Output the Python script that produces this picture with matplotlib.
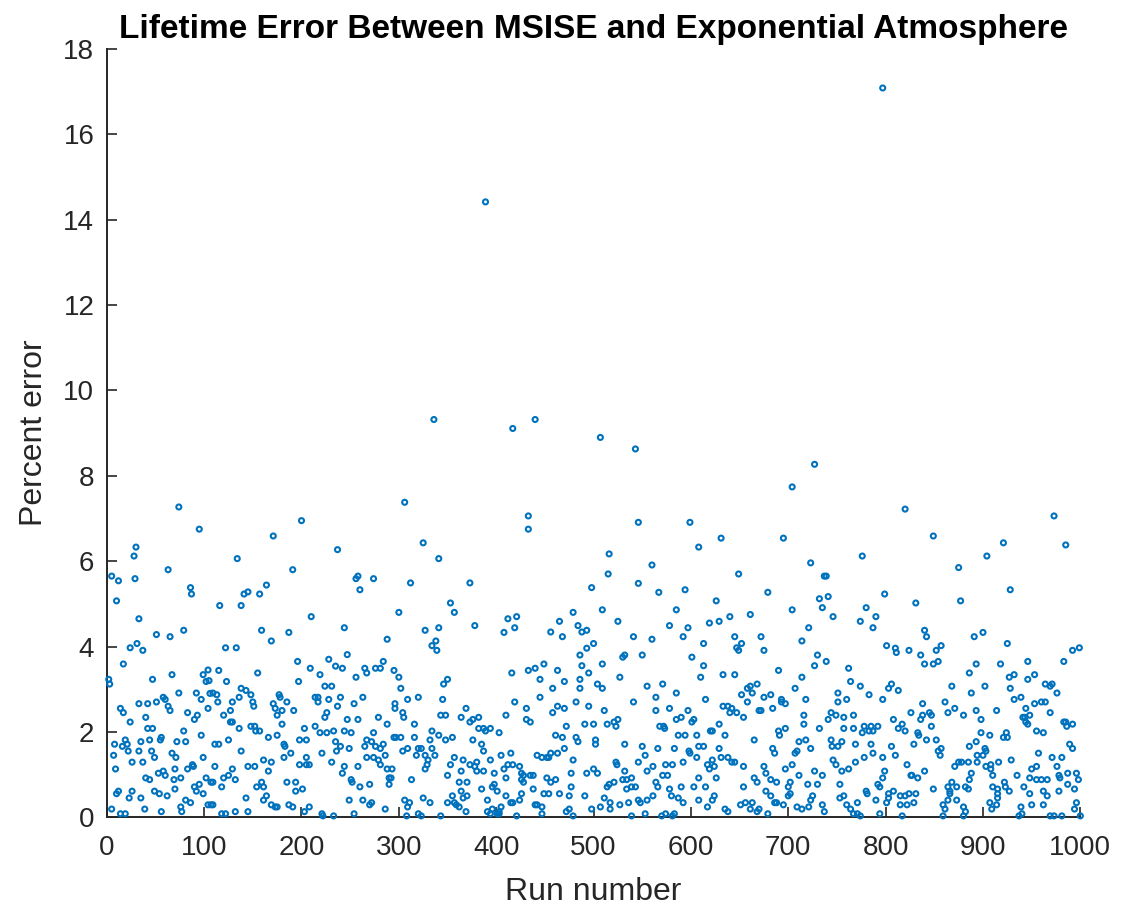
import matplotlib
matplotlib.use("Agg")
import matplotlib.pyplot as plt

# Lifetime error of each Monte Carlo run (MSISE vs exponential atmosphere)
run_number = [
    # runs 0-107
    74, 95, 30, 28, 5, 12, 29, 63, 86, 87,
    10, 33, 79, 51, 65, 31, 24, 37, 17, 2,
    3, 47, 67, 99, 104, 102, 105, 74, 92, 97,
    58, 60, 51, 42, 33, 63, 65, 14, 17, 83,
    93, 90, 40, 24, 42, 47, 79, 97, 8, 19,
    16, 21, 22, 33, 35, 44, 56, 55, 72, 81,
    46, 7, 49, 67, 71, 99, 9, 26, 37, 70,
    83, 88, 89, 40, 44, 53, 58, 60, 69, 76,
    102, 10, 12, 26, 49, 54, 70, 90, 95, 92,
    99, 23, 35, 62, 81, 86, 5, 39, 76, 77,
    56, 14, 19, 104, 107, 106, 104,
    # runs 107-209
    200, 171, 134, 191, 164, 141, 145, 157, 116, 138,
    159, 187, 169, 122, 133, 196, 209, 115, 155, 197,
    123, 138, 143, 148, 136, 113, 109, 114, 129, 150,
    151, 177, 178, 185, 171, 173, 180, 192, 175, 120,
    127, 127, 129, 180, 148, 152, 153, 157, 136, 203,
    166, 175, 111, 115, 125, 182, 183, 198, 205, 138,
    189, 182, 205, 161, 169, 111, 145, 152, 198, 205,
    208, 129, 166, 120, 125, 132, 109, 118, 159, 154,
    161, 185, 194, 194, 201, 143, 161, 164, 169, 173,
    175, 187, 191, 208, 132, 145, 203, 118, 122, 109,
    107,
    # runs 210-313
    306, 237, 256, 258, 274, 260, 312, 210, 300, 244,
    288, 228, 247, 235, 242, 265, 267, 276, 281, 284,
    295, 300, 256, 219, 302, 224, 231, 214, 217, 217,
    228, 240, 237, 254, 263, 296, 296, 309, 226, 224,
    247, 258, 279, 304, 305, 288, 214, 219, 226, 233,
    244, 251, 274, 267, 272, 265, 276, 281, 284, 295,
    297, 302, 235, 240, 249, 236, 221, 304, 309, 286,
    267, 274, 279, 281, 231, 244, 258, 288, 293, 242,
    290, 292, 290, 251, 252, 260, 270, 313, 249, 263,
    272, 270, 286, 306, 309, 311, 221, 222, 233, 254,
    308,
    # runs 314-415
    336, 389, 325, 341, 373, 353, 357, 378, 412, 408,
    327, 341, 334, 338, 339, 346, 350, 320, 345, 369,
    343, 348, 364, 373, 376, 382, 410, 316, 382, 387,
    389, 394, 334, 403, 341, 355, 348, 332, 316, 376,
    385, 320, 323, 334, 387, 318, 327, 337, 330, 329,
    327, 357, 353, 366, 373, 378, 380, 380, 387, 394,
    405, 415, 412, 408, 364, 398, 410, 350, 362, 370,
    385, 398, 396, 401, 364, 355, 366, 370, 410, 325,
    332, 350, 357, 359, 362, 369, 391, 391, 396, 394,
    401, 403, 403, 405, 415, 320, 323, 343,
    # runs 416-517
    417, 440, 507, 433, 433, 516, 515, 498, 509, 479,
    465, 421, 419, 456, 468, 484, 488, 493, 500, 486,
    493, 488, 509, 416, 433, 440, 449, 463, 445, 470,
    486, 486, 495, 504, 509, 458, 445, 419, 482, 431,
    463, 470, 458, 495, 511, 431, 435, 472, 491, 500,
    514, 461, 468, 482, 484, 502, 502, 470, 456, 463,
    442, 447, 452, 454, 479, 417, 424, 426, 428, 435,
    438, 426, 428, 452, 456, 461, 477, 493, 500, 504,
    477, 514, 516, 438, 426, 449, 454, 465, 475, 491,
    511, 417, 424, 440, 442, 447, 447, 421, 472, 475,
    479, 498, 507, 517, 517,
    # runs 518-622
    543, 546, 599, 608, 560, 546, 567, 594, 585, 525,
    578, 597, 592, 541, 560, 619, 613, 530, 532, 550,
    601, 613, 610, 527, 555, 571, 564, 585, 615, 541,
    564, 578, 597, 585, 590, 601, 603, 521, 523, 525,
    568, 572, 573, 587, 594, 606, 620, 532, 550, 566,
    583, 608, 613, 598, 599, 553, 606, 523, 524, 546,
    592, 574, 581, 617, 619, 622, 561, 555, 532, 571,
    576, 608, 530, 534, 539, 564, 566, 521, 534, 539,
    543, 578, 590, 603, 615, 561, 580, 587, 592, 608,
    622, 546, 548, 555, 536, 527, 617, 539, 553, 570,
    574, 581, 583,
    # runs 622-723
    704, 631, 695, 649, 679, 626, 629, 640, 661, 704,
    721, 723, 645, 652, 647, 649, 672, 675, 714, 690,
    633, 645, 714, 661, 658, 668, 663, 707, 652, 675,
    682, 658, 693, 693, 697, 718, 633, 638, 642, 640,
    647, 654, 670, 672, 684, 716, 716, 629, 622, 635,
    690, 691, 697, 665, 711, 718, 629, 723, 684, 686,
    707, 709, 631, 638, 624, 642, 645, 654, 675, 677,
    697, 704, 711, 626, 665, 668, 682, 688, 702, 700,
    720, 654, 677, 682, 702, 700, 624, 651, 656, 663,
    661, 668, 670, 686, 688, 695, 679, 635, 638, 709,
    714, 721, 723,
    # runs 724-826
    727, 820, 776, 737, 739, 732, 741, 735, 799, 780,
    746, 774, 790, 787, 801, 810, 811, 824, 730, 727,
    739, 762, 764, 774, 806, 803, 813, 751, 751, 760,
    783, 797, 744, 749, 741, 757, 767, 826, 808, 817,
    813, 820, 778, 785, 792, 783, 787, 776, 732, 757,
    767, 744, 745, 751, 755, 769, 785, 787, 806, 810,
    778, 797, 746, 749, 769, 822, 762, 755, 727, 735,
    799, 797, 826, 730, 753, 792, 794, 780, 781, 808,
    803, 725, 753, 757, 790, 803, 801, 815, 820, 824,
    815, 822, 735, 737, 760, 764, 767, 771, 774, 771,
    794, 817, 797,
    # runs 827-929
    849, 921, 904, 875, 928, 831, 877, 840, 842, 891,
    900, 925, 836, 852, 857, 840, 849, 854, 893, 918,
    886, 927, 928, 868, 902, 888, 861, 838, 838, 836,
    845, 847, 864, 871, 880, 893, 898, 914, 847, 833,
    834, 842, 852, 829, 898, 907, 921, 925, 924, 893,
    886, 902, 903, 854, 857, 856, 894, 900, 871, 875,
    878, 885, 894, 903, 908, 908, 916, 827, 833, 840,
    888, 886, 910, 868, 922, 923, 849, 864, 866, 866,
    873, 882, 885, 910, 915, 915, 915, 927, 831, 829,
    864, 873, 859, 861, 880, 882, 880, 859, 907, 914,
    909, 929,
    # runs 930-1000
    973, 985, 946, 983, 992, 999, 932, 946, 953, 964,
    969, 971, 976, 932, 939, 953, 960, 964, 944, 969,
    941, 943, 948, 944, 946, 983, 985, 986, 992, 955,
    962, 989, 992, 957, 971, 981, 950, 955, 976, 935,
    948, 955, 960, 966, 978, 979, 987, 996, 998, 942,
    987, 994, 948, 962, 966, 978, 939, 940, 937, 950,
    962, 996, 994, 969, 973, 981, 1000,
]

percent_error = [
    # runs 0-107
    7.27, 6.75, 6.33, 6.12, 5.65, 5.54, 5.59, 5.80, 5.38, 5.23,
    5.07, 4.65, 4.38, 4.28, 4.23, 4.07, 3.97, 3.91, 3.59, 3.23,
    3.12, 3.23, 3.34, 3.34, 3.45, 3.18, 3.20, 2.91, 2.91, 2.76,
    2.81, 2.76, 2.70, 2.66, 2.66, 2.60, 2.50, 2.55, 2.45, 2.45,
    2.39, 2.29, 2.34, 2.23, 2.08, 2.08, 2.02, 1.92, 1.71, 1.81,
    1.66, 1.71, 1.55, 1.55, 1.77, 1.81, 1.87, 1.81, 1.77, 1.77,
    1.55, 1.45, 1.40, 1.50, 1.40, 1.40, 1.13, 1.29, 1.29, 1.13,
    1.13, 1.23, 1.19, 0.92, 0.88, 1.03, 1.08, 0.98, 0.88, 0.92,
    0.92, 0.55, 0.61, 0.61, 0.61, 0.55, 0.66, 0.71, 0.77, 0.61,
    0.55, 0.45, 0.45, 0.50, 0.40, 0.34, 0.19, 0.19, 0.24, 0.13,
    0.13, 0.08, 0.08, 0.29, 0.82, 2.90, 2.55,
    # runs 107-209
    6.95, 6.59, 6.06, 5.80, 5.44, 5.23, 5.28, 5.23, 4.96, 4.96,
    4.38, 4.33, 4.13, 3.97, 3.97, 3.65, 3.49, 3.44, 3.38, 3.18,
    3.18, 3.02, 2.97, 2.87, 2.81, 2.87, 2.91, 2.70, 2.70, 2.70,
    2.60, 2.87, 2.81, 2.70, 2.66, 2.55, 2.50, 2.50, 2.39, 2.39,
    2.50, 2.23, 2.23, 2.18, 2.13, 2.13, 2.02, 2.02, 2.08, 2.08,
    1.87, 1.92, 1.71, 1.71, 1.81, 1.71, 1.66, 1.81, 1.81, 1.55,
    1.50, 1.40, 1.40, 1.34, 1.29, 1.19, 1.19, 1.19, 1.23, 1.23,
    1.23, 1.13, 1.08, 0.92, 0.98, 0.88, 0.82, 0.71, 0.82, 0.71,
    0.71, 0.82, 0.82, 0.61, 0.66, 0.45, 0.40, 0.50, 0.29, 0.24,
    0.24, 0.29, 0.24, 0.24, 0.13, 0.13, 0.13, 0.08, 0.08, 0.29,
    0.29,
    # runs 210-313
    7.38, 6.27, 5.59, 5.65, 5.59, 5.33, 5.49, 4.70, 4.80, 4.44,
    4.17, 3.70, 3.81, 3.54, 3.49, 3.49, 3.38, 3.49, 3.49, 3.65,
    3.44, 3.28, 3.28, 3.34, 3.02, 3.07, 3.07, 2.81, 2.81, 2.70,
    2.76, 2.81, 2.60, 2.66, 2.81, 2.66, 2.55, 2.76, 2.45, 2.34,
    2.29, 2.29, 2.34, 2.45, 2.34, 2.18, 2.13, 1.98, 1.98, 2.02,
    2.02, 1.98, 1.98, 1.81, 1.77, 1.66, 1.66, 1.61, 1.71, 1.87,
    1.87, 1.87, 1.77, 1.66, 1.61, 1.55, 1.50, 1.55, 1.61, 1.45,
    1.40, 1.40, 1.34, 1.23, 1.29, 1.19, 1.19, 1.13, 1.13, 1.03,
    0.92, 0.92, 0.77, 0.88, 0.82, 0.71, 0.77, 0.88, 0.40, 0.40,
    0.34, 0.29, 0.19, 0.40, 0.24, 0.34, 0.08, 0.03, 0.03, 0.08,
    0.03,
    # runs 314-415
    9.32, 14.42, 6.43, 6.06, 5.49, 5.02, 4.80, 4.49, 4.65, 4.33,
    4.38, 4.44, 4.02, 4.13, 3.91, 3.12, 3.23, 2.81, 2.76, 2.55,
    2.39, 2.39, 2.34, 2.23, 2.29, 2.34, 2.39, 2.18, 2.08, 2.08,
    2.02, 2.08, 2.02, 1.98, 1.92, 1.87, 1.81, 1.81, 1.87, 1.81,
    1.71, 1.61, 1.61, 1.61, 1.55, 1.45, 1.45, 1.45, 1.34, 1.23,
    1.13, 1.40, 1.23, 1.34, 1.23, 1.19, 1.29, 1.08, 1.08, 1.34,
    1.45, 1.50, 1.23, 1.13, 1.08, 1.03, 0.92, 0.98, 0.82, 0.82,
    0.66, 0.77, 0.71, 0.61, 0.61, 0.50, 0.45, 0.50, 0.50, 0.45,
    0.34, 0.34, 0.34, 0.29, 0.24, 0.13, 0.40, 0.13, 0.19, 0.08,
    0.08, 0.08, 0.13, 0.24, 0.34, 0.08, 0.03, 0.03,
    # runs 416-517
    9.11, 9.32, 8.90, 7.06, 6.75, 6.17, 5.70, 5.38, 4.86, 4.80,
    4.59, 4.70, 4.44, 4.34, 4.23, 4.49, 4.34, 4.38, 4.07, 3.80,
    3.96, 3.55, 3.59, 3.38, 3.44, 3.49, 3.59, 3.44, 3.23, 3.18,
    3.23, 3.02, 3.38, 3.12, 3.02, 3.02, 2.81, 2.70, 2.70, 2.55,
    2.60, 2.55, 2.45, 2.60, 2.50, 2.29, 2.23, 2.13, 2.18, 2.18,
    2.18, 1.92, 1.87, 1.87, 1.77, 1.81, 1.71, 1.61, 1.50, 1.50,
    1.45, 1.40, 1.40, 1.40, 1.34, 1.23, 1.19, 1.03, 0.98, 0.98,
    0.98, 0.88, 0.82, 0.92, 0.82, 0.88, 1.03, 1.03, 1.13, 1.03,
    0.71, 0.71, 0.77, 0.66, 0.55, 0.55, 0.55, 0.55, 0.50, 0.50,
    0.45, 0.34, 0.40, 0.29, 0.29, 0.24, 0.08, 0.03, 0.13, 0.19,
    0.03, 0.19, 0.24, 0.34, 0.19,
    # runs 518-622
    8.63, 6.91, 6.91, 6.33, 5.91, 5.48, 5.27, 5.33, 4.86, 4.59,
    4.49, 4.44, 4.23, 4.23, 4.17, 4.55, 4.07, 3.75, 3.80, 3.80,
    3.75, 3.55, 3.28, 3.28, 3.07, 3.12, 2.81, 2.91, 2.76, 2.70,
    2.50, 2.55, 2.50, 2.29, 2.34, 2.23, 2.29, 2.23, 2.13, 2.29,
    2.13, 2.13, 2.08, 1.92, 1.92, 1.92, 2.02, 1.71, 1.66, 1.61,
    1.61, 1.66, 1.66, 1.55, 1.50, 1.45, 1.40, 1.29, 1.23, 1.29,
    1.29, 1.23, 1.23, 1.23, 1.13, 1.34, 1.19, 1.08, 1.08, 0.98,
    0.98, 0.92, 0.88, 0.88, 0.92, 0.82, 0.71, 0.82, 0.66, 0.71,
    0.71, 0.66, 0.71, 0.71, 0.71, 0.50, 0.50, 0.45, 0.34, 0.40,
    0.40, 0.40, 0.34, 0.40, 0.34, 0.29, 0.24, 0.03, 0.08, 0.03,
    0.08, 0.03, 0.08,
    # runs 622-723
    7.74, 6.54, 6.54, 5.70, 5.27, 5.07, 4.59, 4.70, 4.75, 4.86,
    4.44, 5.96, 4.23, 4.07, 3.97, 3.91, 4.23, 3.91, 4.13, 3.44,
    3.34, 3.34, 3.28, 3.07, 3.02, 3.12, 2.91, 3.02, 2.87, 2.81,
    2.87, 2.70, 2.76, 2.70, 2.66, 2.76, 2.60, 2.60, 2.55, 2.45,
    2.45, 2.34, 2.50, 2.50, 2.55, 2.39, 2.18, 2.18, 2.02, 1.92,
    2.02, 1.92, 2.08, 1.81, 1.77, 1.81, 1.61, 1.61, 1.61, 1.50,
    1.50, 1.55, 1.40, 1.40, 1.19, 1.29, 1.29, 1.19, 1.19, 1.03,
    1.13, 1.23, 0.98, 0.92, 0.92, 0.82, 0.88, 0.82, 0.82, 0.71,
    0.77, 0.71, 0.61, 0.50, 0.55, 0.50, 0.50, 0.29, 0.34, 0.34,
    0.19, 0.13, 0.19, 0.34, 0.34, 0.29, 0.08, 0.19, 0.13, 0.24,
    0.19, 0.24, 0.40,
    # runs 724-826
    8.27, 7.22, 6.12, 5.65, 5.65, 5.12, 5.17, 4.91, 5.23, 4.91,
    4.70, 4.59, 4.70, 4.44, 4.02, 3.96, 3.86, 3.91, 3.80, 3.55,
    3.65, 3.49, 3.18, 3.07, 3.12, 3.02, 2.97, 2.91, 2.70, 2.76,
    2.87, 2.76, 2.45, 2.39, 2.29, 2.34, 2.39, 2.45, 2.29, 2.18,
    2.08, 2.02, 2.13, 2.13, 2.13, 2.02, 2.02, 1.98, 2.08, 2.08,
    2.08, 1.81, 1.66, 1.66, 1.77, 1.71, 1.71, 1.50, 1.66, 1.45,
    1.40, 1.40, 1.34, 1.23, 1.29, 1.23, 1.13, 1.08, 1.08, 0.98,
    1.08, 0.92, 0.98, 0.77, 0.77, 0.77, 0.71, 0.61, 0.55, 0.61,
    0.55, 0.50, 0.45, 0.50, 0.40, 0.45, 0.34, 0.50, 0.50, 0.55,
    0.29, 0.29, 0.29, 0.13, 0.29, 0.19, 0.08, 0.08, 0.03, 0.34,
    0.08, 0.03, 17.09,
    # runs 827-929
    6.59, 6.43, 6.12, 5.85, 5.33, 5.02, 5.07, 4.38, 4.23, 4.23,
    4.33, 4.07, 3.80, 3.91, 4.02, 3.59, 3.59, 3.65, 3.59, 3.59,
    3.38, 3.28, 3.02, 3.07, 3.07, 2.91, 2.70, 2.66, 2.39, 2.29,
    2.45, 2.39, 2.45, 2.55, 2.39, 2.50, 2.29, 2.50, 2.13, 1.98,
    1.92, 1.81, 1.81, 1.71, 1.98, 1.92, 1.87, 1.87, 1.98, 1.77,
    1.66, 1.61, 1.55, 1.55, 1.61, 1.45, 1.45, 1.45, 1.19, 1.29,
    1.29, 1.29, 1.29, 1.19, 1.23, 1.13, 1.29, 0.98, 0.92, 1.08,
    1.03, 0.88, 0.98, 0.82, 0.82, 0.71, 0.66, 0.71, 0.61, 0.55,
    0.71, 0.71, 0.66, 0.71, 0.66, 0.55, 0.45, 0.61, 0.55, 0.34,
    0.40, 0.40, 0.29, 0.19, 0.24, 0.13, 0.03, 0.03, 0.34, 0.29,
    0.19, 1.34,
    # runs 930-1000
    7.06, 6.38, 3.65, 3.65, 3.91, 3.97, 3.34, 3.23, 3.34, 3.12,
    3.07, 3.12, 2.91, 2.76, 2.81, 2.66, 2.70, 2.70, 2.55, 2.45,
    2.34, 2.34, 2.39, 2.23, 2.18, 2.23, 2.23, 2.13, 2.18, 2.02,
    1.98, 1.71, 1.61, 1.50, 1.40, 1.40, 1.13, 1.19, 1.19, 0.98,
    0.92, 0.88, 0.88, 0.88, 0.98, 0.92, 1.03, 1.03, 0.88, 0.71,
    0.77, 0.66, 0.55, 0.61, 0.50, 0.61, 0.24, 0.08, 0.03, 0.29,
    0.29, 0.34, 0.19, 0.03, 0.03, 0.03, 0.03,
]

assert len(run_number) == len(percent_error)

x_ticks = list(range(0, 1001, 100))
y_ticks = list(range(0, 19, 2))

plt.rcParams['font.family'] = ['Liberation Sans', 'DejaVu Sans']
axis_color = '#262626'

fig = plt.figure(figsize=(11.36, 9.10), dpi=100)
ax = fig.add_axes([0.094, 0.102, 0.857, 0.844])

ax.scatter(run_number, percent_error, s=13, facecolors='none',
           edgecolors='#0072BD', linewidths=1.5, zorder=3, clip_on=False)

ax.set_xlim(0, 1000)
ax.set_ylim(0, 18)
ax.set_xticks(x_ticks)
ax.set_yticks(y_ticks)

# MATLAB-like axes: only left and bottom, ticks pointing inward
for side in ['top', 'right']:
    ax.spines[side].set_visible(False)
for side in ['left', 'bottom']:
    ax.spines[side].set_color(axis_color)
    ax.spines[side].set_linewidth(1.4)
ax.tick_params(direction='in', length=7, width=1.2, colors=axis_color,
               labelsize=20)
ax.tick_params(axis='x', pad=13)
ax.tick_params(axis='y', pad=9)

ax.set_xlabel('Run number', fontsize=23, color=axis_color, labelpad=11)
ax.set_ylabel('Percent error', fontsize=23, color=axis_color, labelpad=10)
ax.set_title('Lifetime Error Between MSISE and Exponential Atmosphere',
             fontsize=24, fontweight='bold', color='black', pad=8)

fig.savefig('out.png', dpi=100)
